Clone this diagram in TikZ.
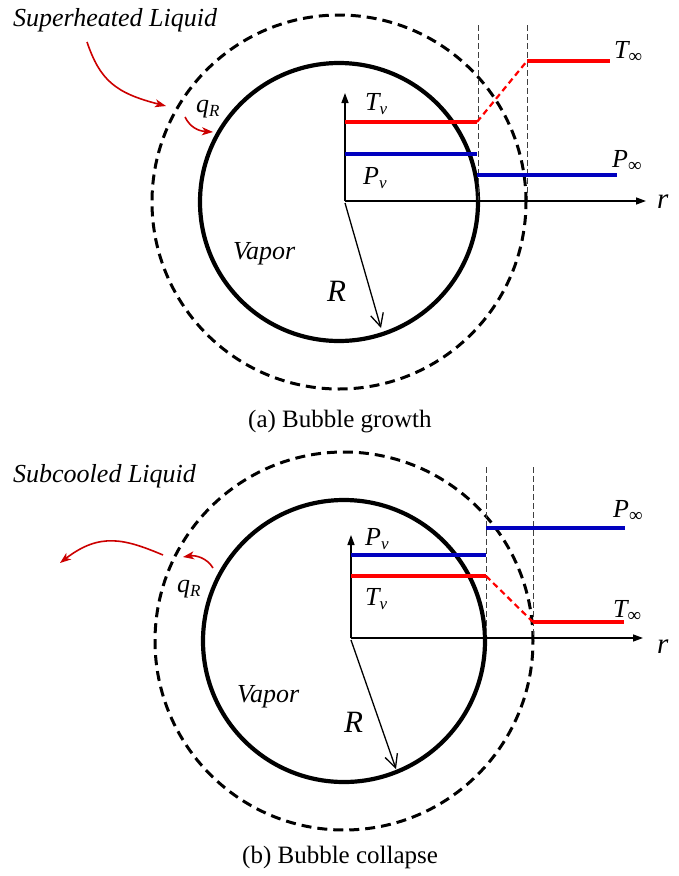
\documentclass[tikz,border=0pt]{standalone}
\usepackage{fontspec}
\setmainfont{Liberation Serif}
\usetikzlibrary{arrows.meta}
\newcommand\sbs[1]{\raisebox{-0.18em}{\fontsize{17}{20}\selectfont #1}}
\newcommand\infy{{\upshape\fontsize{19}{20}\selectfont ∞}}
\begin{document}
\begin{tikzpicture}[x=1pt,y=-1pt,
  bubble/.style={line width=4.2pt},
  film/.style={line width=3pt,dash pattern=on 10pt off 6pt},
  guide/.style={line width=1pt,black!75,dash pattern=on 6pt off 3pt},
  axis/.style={line width=1.4pt,-{Triangle[length=10pt,width=7pt]}},
  rad/.style={line width=1.3pt,-{Straight Barb[length=13pt,width=13pt]}},
  tline/.style={line width=3.2pt,red},
  pline/.style={line width=3.2pt,blue!75!black},
  tdash/.style={line width=2.2pt,red,dash pattern=on 6pt off 4pt},
  heat/.style={line width=1.6pt,red!80!black,-{Stealth[length=11pt,width=8pt,inset=3pt]}},
  lbl/.style={font=\fontsize{26}{30}\selectfont\itshape,inner sep=0pt,anchor=base west},
  big/.style={font=\fontsize{31}{34}\selectfont\itshape,inner sep=0pt,anchor=base west},
  captxt/.style={font=\fontsize{25}{30}\selectfont,inner sep=0pt,anchor=base west}]
\useasboundingbox (0,0) rectangle (678,876);
\fill[white] (0,0) rectangle (678,876);

% ---------------- (a) Bubble growth ----------------
\coordinate (ca) at (339,202);
\draw[film] (ca) circle[radius=187pt];
\draw[bubble] (ca) circle[radius=139pt];
\coordinate (oa) at (345,201);
\coordinate (ya) at (345,93);
\coordinate (xa) at (646,201);
\draw[guide] (478,25) coordinate (g1t) -- (478,201) coordinate (g1b);
\draw[guide] (527,25) coordinate (g2t) -- (527,201) coordinate (g2b);
\draw[axis] (oa) -- (ya);
\draw[axis] (oa) -- (xa);
\coordinate (tva) at (345,122); \coordinate (tvb) at (477,122);
\coordinate (tia) at (527,61);  \coordinate (tib) at (610,61);
\draw[tline] (tva) -- (tvb);
\draw[tdash] (tvb) -- (tia);
\draw[tline] (tia) -- (tib);
\coordinate (pva) at (345,154); \coordinate (pvb) at (477,154);
\coordinate (pia) at (477,175); \coordinate (pib) at (617,175);
\draw[pline] (pva) -- (pvb);
\draw[pline] (pia) -- (pib);
\coordinate (ra) at (345,203); \coordinate (rb) at (381,328);
\draw[rad] (ra) -- (rb);
\node[lbl] (sl) at (13,26) {Superheated Liquid};
\node[lbl] (va) at (233,259) {Vapor};
\node[big] (Ra) at (327,301) {R};
\node[lbl] (Tv1) at (365,110) {T\sbs{v}};
\node[lbl] (Pv1) at (363,184) {P\sbs{v}};
\node[lbl] (Ti1) at (614,58) {T\sbs{\infy}};
\node[lbl] (Pi1) at (612,167) {P\sbs{\infy}};
\node[lbl,font=\fontsize{29}{30}\selectfont\itshape] (r1) at (657,208) {r};
\node[lbl] (q1) at (196,112) {q\sbs{R}};
\coordinate (h1s) at (87,42); \coordinate (h1e) at (166,106);
\draw[heat] (h1s) .. controls (100,80) and (115,93) .. (h1e);
\coordinate (h2s) at (185,117); \coordinate (h2e) at (213,132);
\draw[heat] (h2s) .. controls (190,127) and (198,131) .. (h2e);
\node[captxt] (capa) at (248,427) {(a) Bubble growth};

% ---------------- (b) Bubble collapse ----------------
\coordinate (cb) at (344,641);
\draw[film] (cb) circle[radius=189pt];
\draw[bubble] (cb) circle[radius=141pt];
\coordinate (ob) at (351,638);
\coordinate (yb) at (351,535);
\coordinate (xb) at (643,638);
\draw[guide] (486,467) coordinate (g3t) -- (486,638) coordinate (g3b);
\draw[guide] (533,467) coordinate (g4t) -- (533,638) coordinate (g4b);
\draw[axis] (ob) -- (yb);
\draw[axis] (ob) -- (xb);
\coordinate (pvc) at (351,555); \coordinate (pvd) at (486,555);
\coordinate (pic) at (486,528); \coordinate (pid) at (625,528);
\draw[pline] (pvc) -- (pvd);
\draw[pline] (pic) -- (pid);
\coordinate (tvc) at (351,576); \coordinate (tvd) at (486,576);
\coordinate (tic) at (533,622); \coordinate (tid) at (624,622);
\draw[tline] (tvc) -- (tvd);
\draw[tdash] (tvd) -- (tic);
\draw[tline] (tic) -- (tid);
\coordinate (rc) at (351,640); \coordinate (rd) at (396,769);
\draw[rad] (rc) -- (rd);
\node[lbl] (scl) at (13,482) {Subcooled Liquid};
\node[lbl] (vb) at (237,702) {Vapor};
\node[big] (Rb) at (344,732) {R};
\node[lbl] (Pv2) at (365,545) {P\sbs{v}};
\node[lbl] (Tv2) at (365,605) {T\sbs{v}};
\node[lbl] (Pi2) at (613,517) {P\sbs{\infy}};
\node[lbl] (Ti2) at (613,617) {T\sbs{\infy}};
\node[lbl,font=\fontsize{29}{30}\selectfont\itshape] (r2) at (657,653) {r};
\node[lbl] (q2) at (177,592) {q\sbs{R}};
\coordinate (h3s) at (163,555); \coordinate (h3e) at (60,563);
\draw[heat] (h3s) .. controls (125,539) and (100,532) .. (h3e);
\coordinate (h4s) at (213,568); \coordinate (h4e) at (183,557);
\draw[heat] (h4s) .. controls (207,558) and (196,555) .. (h4e);
\node[captxt] (capb) at (242,863) {(b) Bubble collapse};
\end{tikzpicture}
\end{document}
